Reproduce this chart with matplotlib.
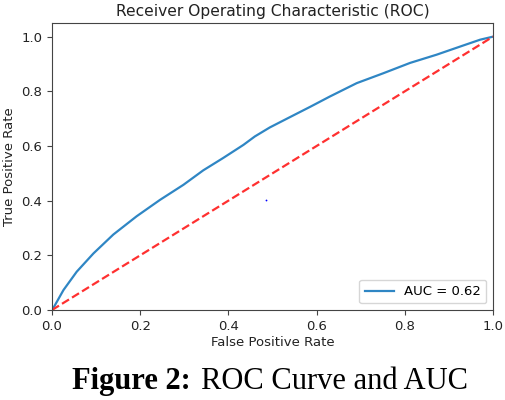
import matplotlib
matplotlib.use('Agg')
import matplotlib.pyplot as plt

# ROC curve
fpr = [0.0, 0.004, 0.026, 0.056, 0.094, 0.139, 0.192, 0.245, 0.298, 0.343, 0.388,
       0.434, 0.46, 0.494, 0.540, 0.585, 0.630, 0.691, 0.751, 0.812, 0.872,
       0.933, 0.971, 1.0]
tpr = [0.0, 0.01, 0.073, 0.140, 0.207, 0.276, 0.343, 0.403, 0.458, 0.511, 0.556,
       0.604, 0.635, 0.668, 0.706, 0.743, 0.781, 0.830, 0.866, 0.904, 0.934,
       0.968, 0.989, 1.0]
auc = 0.62
chance = [0.0, 1.0]
stray_point = (0.485, 0.403)

fig = plt.figure(figsize=(5.06, 4.0), dpi=100)
ax = fig.add_axes([52 / 506, 1 - 310 / 400, 441 / 506, 287 / 400])

ax.plot(fpr, tpr, color='#2f86c4', lw=1.6, label='AUC = %0.2f' % auc)
ax.plot(chance, chance, '--', color='#ff3030', lw=1.6)
ax.plot(*stray_point, marker='o', color='blue', ms=1.3, mew=0)
ax.set_xlim(0, 1)
ax.set_ylim(0, 1.05)
ax.set_title('Receiver Operating Characteristic (ROC)', fontsize=11.2, color='#222222', pad=5)
ax.set_xlabel('False Positive Rate', fontsize=9.5, color='#222222', labelpad=2)
ax.set_ylabel('True Positive Rate', fontsize=9.5, color='#222222', labelpad=4)
ax.tick_params(labelsize=9.5, labelcolor='#222222', color='#444444')
for s in ax.spines.values():
    s.set_color('#444444')
ax.legend(loc='lower right', fontsize=9.5, handlelength=2.2)

# caption under the chart
fig.text(191 / 506, 1 - 389 / 400, 'Figure 2:', ha='right', va='baseline',
         fontsize=22, fontweight='bold', family='Liberation Serif')
fig.text(201 / 506, 1 - 389 / 400, 'ROC Curve and AUC', ha='left', va='baseline',
         fontsize=22, family='Liberation Serif')

fig.savefig('out.png', dpi=100)
